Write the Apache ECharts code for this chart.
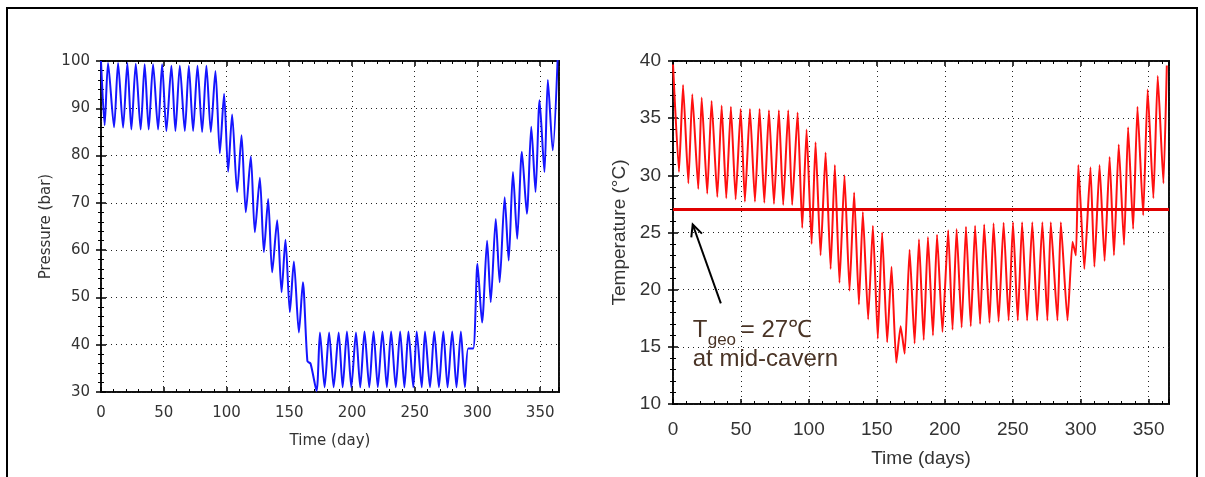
<!DOCTYPE html>
<html>
<head>
<meta charset="utf-8">
<script src="https://cdn.jsdelivr.net/npm/echarts@6.0.0/dist/echarts.min.js"></script>
<style>
  html, body { margin: 0; padding: 0; background: #fff; }
  #main { width: 1205px; height: 477px; }
</style>
</head>
<body>
<div id="main"></div>
<script>
// cavern pressure over the year (peaks / troughs)
var pressureDay = [0, 2.9, 5.6, 10.4, 13.6, 17.6, 21.0, 24.2, 27.7, 31.6, 34.8, 38.0, 41.5, 45.5, 48.7,
    52.1, 56.1, 59.3, 62.8, 66.8, 70.0, 73.4, 76.9, 80.6, 84.0, 87.5, 91.2, 94.7, 98.1, 101.3,
    104.5, 108.5, 112.0, 115.4, 119.4, 122.6, 126.6, 129.8, 133.2, 136.4, 140.4, 143.9, 147.0,
    150.5, 153.7, 157.7, 160.9, 164.5, 167.0, 171.8, 174.5, 178.2, 181.8, 185.4, 189.4, 192.6,
    196.0, 199.5, 203.2, 206.6, 210.0, 213.8, 217.2, 220.6, 224.3, 227.8, 231.2, 234.9, 238.4,
    241.8, 245.0, 248.9, 251.6, 255.6, 258.2, 262.2, 265.6, 269.3, 272.8, 276.2, 279.9, 283.3,
    286.8, 290.0, 292.6, 296.6, 300.0, 303.7, 307.7, 310.6, 314.6, 317.7, 321.7, 324.9, 328.3,
    331.7, 335.4, 339.4, 342.9, 346.3, 349.5, 353.4, 356.1, 360.0, 364.0];
var pressureBar = [100, 86.4, 99.6, 86.0, 99.6, 85.9, 99.6, 85.5, 99.4, 85.5, 99.3, 85.5, 99.3, 85.5, 99.3,
    85.2, 99.0, 85.2, 99.0, 85.2, 99.0, 85.2, 99.0, 85.0, 99.0, 85.0, 97.9, 80.5, 93.1, 76.6,
    88.7, 72.3, 84.3, 68.0, 79.8, 63.8, 75.3, 59.6, 70.8, 55.3, 66.3, 51.1, 62.2,
    46.9, 57.6, 42.6, 53.2, 36.5, 36.0, 30.2, 42.6, 31.0, 42.6, 31.0, 42.6, 31.0,
    42.8, 31.0, 42.6, 31.0, 42.8, 31.0, 42.8, 31.0, 42.8, 31.0, 42.8, 31.0, 42.8,
    31.0, 42.8, 31.0, 42.8, 31.0, 42.8, 31.0, 42.8, 31.0, 42.8, 31.0, 42.8, 31.0,
    42.8, 31.0, 39.2, 39.2, 57.1, 44.7, 62.0, 49.0, 66.6, 53.2, 71.2, 57.8, 76.5,
    62.4, 80.8, 67.7, 86.1, 72.3, 91.7, 76.5, 96.0, 81.1, 101.0];

// cavern gas temperature over the year
var tempDay = [0, 4.4, 7.4, 11.3, 14.2, 18.6, 21.1, 25.2, 28.4, 32.6, 35.8, 39.2, 42.6, 46.1, 49.8,
    52.9, 56.6, 60.3, 63.7, 67.2, 70.6, 74.3, 77.9, 81.1, 84.8, 87.7, 91.7, 95.1, 98.3, 102.0,
    104.9, 108.6, 112.3, 116.0, 119.1, 122.5, 126.2, 129.9, 133.3, 136.8, 139.7, 143.6, 147.1,
    150.7, 153.9, 157.6, 160.8, 164.3, 167.5, 170.5, 174.1, 177.8, 181.0, 184.5, 187.6, 191.3,
    194.3, 198.3, 202.5, 205.7, 208.7, 212.4, 215.6, 219.1, 222.3, 226.0, 229.0, 232.9, 235.9,
    239.6, 243.3, 247.0, 250.2, 253.7, 256.9, 260.6, 264.4, 268.0, 271.8, 275.5, 278.0, 282.9,
    285.4, 290.3, 294.0, 296.5, 298.3, 302.7, 307.2, 310.1, 313.9, 317.6, 321.3, 324.5, 328.0,
    331.9, 334.9, 338.6, 341.8, 346.0, 349.3, 353.5, 356.7, 360.9, 363.4];
var tempC = [39.7, 30.3, 37.9, 29.3, 37.1, 28.8, 36.8, 28.4, 36.5, 28.1, 36.1, 28.0, 36.0, 27.9, 35.8,
    27.7, 35.8, 27.7, 35.8, 27.6, 35.7, 27.5, 35.7, 27.4, 35.7, 27.4, 35.5, 25.4, 34.0, 24.0,
    32.9, 23.0, 32.0, 21.8, 30.9, 20.6, 30.0, 19.9, 28.5, 18.7, 26.8, 17.4, 25.6,
    15.7, 25.0, 15.4, 22.0, 13.6, 16.8, 14.4, 23.5, 15.3, 24.4, 15.6, 24.6, 16.0,
    24.8, 16.3, 25.2, 16.5, 25.3, 16.7, 25.5, 16.8, 25.6, 17.0, 25.7, 17.1, 25.8,
    17.2, 25.85, 17.3, 25.9, 17.3, 25.9, 17.3, 25.9, 17.3, 25.9, 17.3, 25.9, 17.3,
    25.9, 17.3, 24.2, 23.0, 30.9, 21.8, 30.7, 22.0, 30.9, 22.5, 31.6, 23.0, 32.7,
    23.9, 34.2, 25.3, 36.0, 26.5, 37.5, 28.0, 38.7, 29.3, 39.6];

var geoTemp = 27;
var dayMax = 365;
// arrow of the note, in (day, degC) of the right plot
var noteArrowHead = [14.5, 25.7];
var noteArrowTail = [35.2, 18.8];
var noteAnchor = [14.5, 15.4];

function pairs(xs, ys) {
    return xs.map(function (x, i) { return [x, ys[i]]; });
}

var gridDots = { show: true, lineStyle: { color: '#222', type: [1, 4], width: 1 } };
var leftFont = 'DejaVu Sans';
var rightFont = 'Liberation Sans';

function xAxisOf(grid, pos, font, size, name, gap, margin, shown) {
    return {
        type: 'value', gridIndex: grid, position: pos, min: 0, max: dayMax, interval: 50,
        name: shown ? name : '', nameLocation: 'middle', nameGap: gap,
        nameTextStyle: { fontFamily: font, fontSize: size, color: '#333' },
        axisLine: { show: false },
        axisTick: { show: true, inside: true, length: 5, lineStyle: { color: '#000', width: 1.5 } },
        minorTick: { show: true, splitNumber: 5, length: 3, lineStyle: { color: '#000' } },
        axisLabel: { show: shown, showMaxLabel: false, fontFamily: font, fontSize: size, color: '#333', margin: margin },
        splitLine: shown ? gridDots : { show: false }
    };
}

function yAxisOf(grid, pos, font, size, lo, hi, step, name, gap, margin, shown) {
    return {
        type: 'value', gridIndex: grid, position: pos, min: lo, max: hi, interval: step,
        name: shown ? name : '', nameLocation: 'middle', nameGap: gap,
        nameTextStyle: { fontFamily: font, fontSize: size, color: '#333' },
        axisLine: { show: false },
        axisTick: { show: true, inside: true, length: 5, lineStyle: { color: '#000', width: 1.5 } },
        minorTick: { show: true, splitNumber: 5, length: 3, lineStyle: { color: '#000' } },
        axisLabel: { show: shown, fontFamily: font, fontSize: size, color: '#333', margin: margin },
        splitLine: shown ? gridDots : { show: false }
    };
}

var dom = document.getElementById('main');
var myChart = echarts.init(dom, null, { renderer: 'canvas' });

var option = {
    animation: false,
    backgroundColor: '#fff',
    grid: [
        { left: 101, top: 61, width: 458, height: 331, show: true, borderColor: '#111', borderWidth: 2, backgroundColor: '#fff' },
        { left: 673, top: 61, width: 496, height: 343, show: true, borderColor: '#111', borderWidth: 2, backgroundColor: '#fff' }
    ],
    xAxis: [
        xAxisOf(0, 'bottom', leftFont, 15, 'Time (day)', 42, 14, true),
        xAxisOf(0, 'top', leftFont, 15, '', 0, 0, false),
        xAxisOf(1, 'bottom', rightFont, 19, 'Time (days)', 45, 16, true),
        xAxisOf(1, 'top', rightFont, 19, '', 0, 0, false)
    ],
    yAxis: [
        yAxisOf(0, 'left', leftFont, 15, 30, 100, 10, 'Pressure (bar)', 47, 11, true),
        yAxisOf(0, 'right', leftFont, 15, 30, 100, 10, '', 0, 0, false),
        yAxisOf(1, 'left', rightFont, 19, 10, 40, 5, 'Temperature (°C)', 44, 12, true),
        yAxisOf(1, 'right', rightFont, 19, 10, 40, 5, '', 0, 0, false)
    ],
    series: [
        {
            name: 'Pressure', type: 'line', xAxisIndex: 0, yAxisIndex: 0,
            data: pairs(pressureDay, pressureBar), showSymbol: false, smooth: 0.25,
            lineStyle: { color: '#1515ff', width: 2 }
        },
        {
            name: 'Temperature', type: 'line', xAxisIndex: 2, yAxisIndex: 2,
            data: pairs(tempDay, tempC), showSymbol: false, smooth: 0.15,
            lineStyle: { color: '#ff1010', width: 2 },
            markLine: {
                silent: true, symbol: 'none', label: { show: false },
                lineStyle: { color: '#e00000', width: 3, type: 'solid' },
                data: [{ yAxis: geoTemp }]
            }
        }
    ]
};
myChart.setOption(option);

// note with arrow placed from data coordinates of the right plot
var head = myChart.convertToPixel({ xAxisIndex: 2, yAxisIndex: 2 }, noteArrowHead);
var tail = myChart.convertToPixel({ xAxisIndex: 2, yAxisIndex: 2 }, noteArrowTail);
var anchor = myChart.convertToPixel({ xAxisIndex: 2, yAxisIndex: 2 }, noteAnchor);
var ang = Math.atan2(tail[1] - head[1], tail[0] - head[0]);
var arm = 13, spread = 0.45;
var noteColor = '#4a3426';
var noteFont = '24px "Liberation Sans", Arial, sans-serif';

myChart.setOption({
    graphic: [
        { type: 'rect', shape: { x: 7, y: 8, width: 1190, height: 490 }, style: { fill: 'none', stroke: '#000', lineWidth: 2 }, z: 100 },
        { type: 'line', shape: { x1: tail[0], y1: tail[1], x2: head[0], y2: head[1] }, style: { stroke: '#000', lineWidth: 2 }, z: 100 },
        { type: 'polyline', shape: { points: [
            [head[0] + arm * Math.cos(ang - spread), head[1] + arm * Math.sin(ang - spread)],
            [head[0], head[1]],
            [head[0] + arm * Math.cos(ang + spread), head[1] + arm * Math.sin(ang + spread)]
        ] }, style: { stroke: '#000', lineWidth: 2, fill: 'none' }, z: 100 },
        { type: 'text', x: anchor[0], y: anchor[1], style: { text: 'T', font: noteFont, fill: noteColor, textVerticalAlign: 'bottom' }, z: 100 },
        { type: 'text', x: anchor[0] + 15, y: anchor[1] + 7, style: { text: 'geo', font: '17px "Liberation Sans", Arial, sans-serif', fill: noteColor, textVerticalAlign: 'bottom' }, z: 100 },
        { type: 'text', x: anchor[0] + 48, y: anchor[1], style: { text: '= 27℃', font: noteFont, fill: noteColor, textVerticalAlign: 'bottom' }, z: 100 },
        { type: 'text', x: anchor[0], y: anchor[1] + 29, style: { text: 'at mid-cavern', font: noteFont, fill: noteColor, textVerticalAlign: 'bottom' }, z: 100 }
    ]
});

window.addEventListener('resize', function () {
    myChart.resize();
});
</script>
</body>
</html>
